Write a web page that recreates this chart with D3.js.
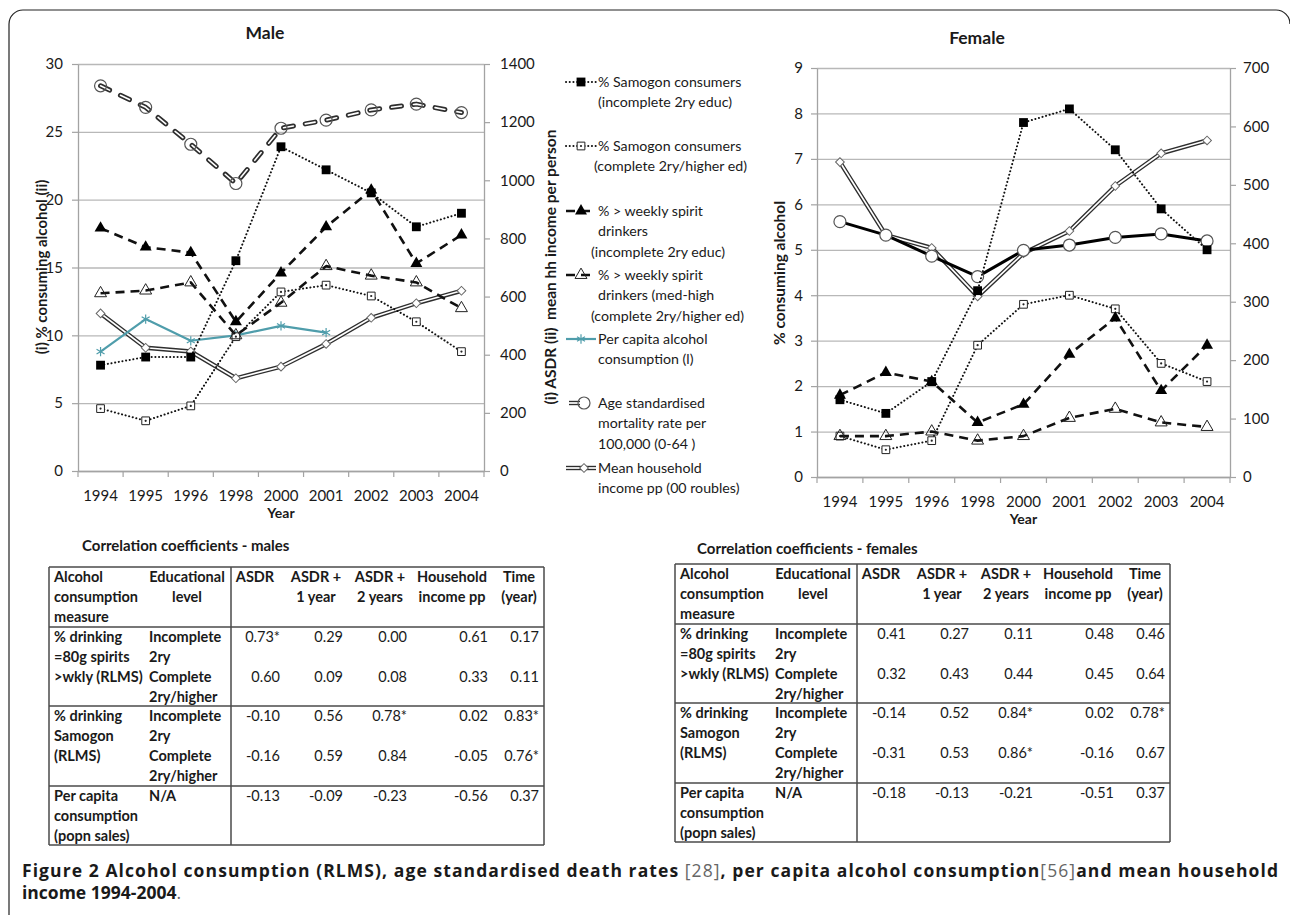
<!DOCTYPE html>
<html>
<head>
<meta charset="UTF-8" />
<title>Figure 2</title>
<style>
  body { margin: 0; background: #fff; }
  svg text { font-family: Lato, "Open Sans", sans-serif; fill: #1a1a1a; }
  svg text.caption { font-family: "Open Sans", sans-serif; }
</style>
<script src="https://d3js.org/d3.v7.min.js"></script>
</head>
<body>
<svg id="fig" width="1290" height="915"></svg>
<script>
const years = ["1994", "1995", "1996", "1998", "2000", "2001", "2002", "2003", "2004"];

// male, left axis (%)
const maleSamogonIncomplete = [7.8, 8.4, 8.4, 15.5, 23.9, 22.2, 20.5, 18.0, 19.0];
const maleSamogonComplete = [4.6, 3.7, 4.8, 9.9, 13.2, 13.7, 12.9, 11.0, 8.8];
const maleSpiritIncomplete = [17.9, 16.5, 16.1, 11.0, 14.6, 18.0, 20.7, 15.3, 17.4];
const maleSpiritComplete = [13.1, 13.3, 13.9, 10.0, 12.4, 15.1, 14.4, 13.9, 12.0];
const perCapitaAlcohol = [8.8, 11.2, 9.6, 10.0, 10.7, 10.2, null, null, null];
// male, right axis
const maleASDR = [1325, 1251, 1124, 989, 1179, 1207, 1242, 1262, 1233];
const maleIncome = [542, 424, 411, 319, 359, 437, 527, 577, 620];

// female, left axis (%)
const femaleSamogonIncomplete = [1.7, 1.4, 2.1, 4.1, 7.8, 8.1, 7.2, 5.9, 5.0];
const femaleSamogonComplete = [0.9, 0.6, 0.8, 2.9, 3.8, 4.0, 3.7, 2.5, 2.1];
const femaleSpiritIncomplete = [1.8, 2.3, 2.1, 1.2, 1.6, 2.7, 3.5, 1.9, 2.9];
const femaleSpiritComplete = [0.9, 0.9, 1.0, 0.8, 0.9, 1.3, 1.5, 1.2, 1.1];
// female, right axis
const femaleASDR = [437, 414, 378, 343, 388, 397, 410, 416, 404];
const femaleIncome = [539, 414, 392, 309, 383, 421, 498, 554, 576];

const maleLeftTicks = [0, 5, 10, 15, 20, 25, 30];
const maleRightTicks = [0, 200, 400, 600, 800, 1000, 1200, 1400];
const femaleLeftTicks = [0, 1, 2, 3, 4, 5, 6, 7, 8, 9];
const femaleRightTicks = [0, 100, 200, 300, 400, 500, 600, 700];

// correlation tables
const coefHeaders = [["ASDR"], ["ASDR +", "1 year"], ["ASDR +", "2 years"], ["Household", "income pp"], ["Time", "(year)"]];
const measureLabels = [["% drinking", "=80g spirits", ">wkly (RLMS)"], ["% drinking", "Samogon", "(RLMS)"], ["Per capita", "consumption", "(popn sales)"]];
const levelLabels = [["Incomplete", "2ry"], ["Complete", "2ry/higher"]];
const maleCoefs = [
  ["0.73*", "0.29", "0.00", "0.61", "0.17"],
  ["0.60", "0.09", "0.08", "0.33", "0.11"],
  ["-0.10", "0.56", "0.78*", "0.02", "0.83*"],
  ["-0.16", "0.59", "0.84", "-0.05", "0.76*"],
  ["-0.13", "-0.09", "-0.23", "-0.56", "0.37"]
];
const femaleCoefs = [
  ["0.41", "0.27", "0.11", "0.48", "0.46"],
  ["0.32", "0.43", "0.44", "0.45", "0.64"],
  ["-0.14", "0.52", "0.84*", "0.02", "0.78*"],
  ["-0.31", "0.53", "0.86*", "-0.16", "0.67"],
  ["-0.18", "-0.13", "-0.21", "-0.51", "0.37"]
];

const svg = d3.select("#fig");
const TEAL = "#4f9dab";
const AXIS = "#a3a3a3";

// frame round the figure
svg.append("path")
  .attr("d", "M9,915 V24 A14,14 0 0 1 23,10 H1276 A14,14 0 0 1 1290,24")
  .attr("fill", "none").attr("stroke", "#222").attr("stroke-width", 1.2);

/* line styles */
const styles = {
  samogonInc: { dash: "0.1,3.6", width: 2, color: "#111", marker: "sqFill" },
  samogonCom: { dash: "0.1,3.6", width: 2, color: "#111", marker: "sqOpen" },
  spiritInc: { dash: "9,6", width: 2.6, color: "#111", marker: "triFill" },
  spiritCom: { dash: "9,6", width: 2.6, color: "#111", marker: "triOpen" },
  perCapita: { width: 2.2, color: TEAL, marker: "star" },
  asdrMale: { double: true, dash: "10,12", marker: "circle" },
  asdrFemale: { width: 3, color: "#000", marker: "circleW" },
  income: { double: true, marker: "diamond" }
};

function drawMarker(g, type, x, y) {
  const t = `translate(${x},${y})`;
  if (type === "sqFill") {
    g.append("path").attr("d", d3.symbol(d3.symbolSquare, 78)()).attr("transform", t).attr("fill", "#000");
  } else if (type === "sqOpen") {
    g.append("path").attr("d", d3.symbol(d3.symbolSquare, 60)()).attr("transform", t)
      .attr("fill", "#fff").attr("stroke", "#222").attr("stroke-width", 1);
    g.append("circle").attr("cx", x).attr("cy", y).attr("r", 1.1).attr("fill", "#222");
  } else if (type === "triFill") {
    g.append("path").attr("d", d3.symbol(d3.symbolTriangle, 62)()).attr("transform", t).attr("fill", "#000");
  } else if (type === "triOpen") {
    g.append("path").attr("d", d3.symbol(d3.symbolTriangle, 62)()).attr("transform", t)
      .attr("fill", "none").attr("stroke", "#222").attr("stroke-width", 1);
  } else if (type === "star") {
    g.append("path").attr("d", d3.symbol(d3.symbolAsterisk, 60)()).attr("transform", t)
      .attr("fill", "none").attr("stroke", TEAL).attr("stroke-width", 1.2);
  } else if (type === "circle" || type === "circleW") {
    g.append("circle").attr("cx", x).attr("cy", y).attr("r", 6)
      .attr("fill", type === "circleW" ? "#fff" : "none").attr("stroke", "#555").attr("stroke-width", 1.2);
  } else if (type === "diamond") {
    g.append("path").attr("d", d3.symbol(d3.symbolSquare, 38)()).attr("transform", t + " rotate(45)")
      .attr("fill", "#fff").attr("stroke", "#666").attr("stroke-width", 1);
  }
}

function drawLine(g, st, d) {
  if (st.double) {
    g.append("path").attr("d", d).attr("fill", "none").attr("stroke", "#2e2e2e")
      .attr("stroke-width", st.dash ? 5 : 4.4).attr("stroke-dasharray", st.dash || null)
      .attr("stroke-linecap", st.dash ? "round" : "butt").attr("stroke-linejoin", "round");
    g.append("path").attr("d", d).attr("fill", "none").attr("stroke", "#fff")
      .attr("stroke-width", st.dash ? 1.6 : 1.7).attr("stroke-dasharray", st.dash || null)
      .attr("stroke-linecap", st.dash ? "round" : "butt").attr("stroke-linejoin", "round");
  } else {
    g.append("path").attr("d", d).attr("fill", "none").attr("stroke", st.color)
      .attr("stroke-width", st.width).attr("stroke-dasharray", st.dash || null)
      .attr("stroke-linecap", st.dash && st.dash.startsWith("0.1") ? "round" : "butt")
      .attr("stroke-linejoin", "round");
  }
}

function drawPanel(p) {
  const g = svg.append("g");
  const x = d3.scaleBand().domain(years).range([p.left, p.right]);
  const yL = d3.scaleLinear().domain([0, d3.max(p.leftTicks)]).range([p.bottom, p.top]);
  const yR = d3.scaleLinear().domain([0, d3.max(p.rightTicks)]).range([p.bottom, p.top]);

  // gridlines
  const grid = g.append("g").attr("transform", `translate(${p.left},0)`)
    .call(d3.axisLeft(yL).tickValues(p.leftTicks).tickSize(-(p.right - p.left)).tickFormat(""));
  grid.select(".domain").remove();
  grid.selectAll("line").attr("stroke", "#b8b8b8").attr("stroke-width", 1.3);

  // left axis
  const la = g.append("g").attr("transform", `translate(${p.left},0)`)
    .call(d3.axisLeft(yL).tickValues(p.leftTicks).tickSize(6).tickSizeOuter(0).tickPadding(p.lPad).tickFormat(d3.format("d")));
  // right axis
  const ra = g.append("g").attr("transform", `translate(${p.right},0)`)
    .call(d3.axisRight(yR).tickValues(p.rightTicks).tickSize(6).tickSizeOuter(0).tickPadding(p.rPad).tickFormat(d3.format("d")));
  // bottom axis (labels), boundary ticks drawn from band edges
  const ba = g.append("g").attr("transform", `translate(0,${p.bottom})`)
    .call(d3.axisBottom(x).tickSize(0).tickPadding(19).tickSizeOuter(0));
  const edges = years.map(d => x(d)).concat([x.range()[1]]);
  ba.selectAll(".edge").data(edges).enter().append("line")
    .attr("x1", d => d).attr("x2", d => d).attr("y1", 0).attr("y2", 6)
    .attr("stroke", AXIS).attr("stroke-width", 1.2);

  [la, ra, ba].forEach(a => {
    a.select(".domain").attr("stroke", AXIS).attr("stroke-width", 1.3);
    a.selectAll(".tick line").attr("stroke", AXIS).attr("stroke-width", 1.2);
    a.selectAll("text").attr("font-size", 15).attr("fill", "#2a2a2a");
  });

  // titles
  g.append("text").attr("x", p.titleX).attr("y", p.titleY).attr("text-anchor", "middle")
    .attr("font-size", 17.5).attr("font-weight", "bold").text(p.title);
  g.append("text").attr("x", (p.left + p.right) / 2).attr("y", p.bottom + 47).attr("text-anchor", "middle")
    .attr("font-size", 14).attr("font-weight", "bold").text("Year");
  g.append("text").attr("transform", `translate(${p.lTitleX},${p.lTitleY}) rotate(-90)`)
    .attr("text-anchor", "middle").attr("dominant-baseline", "central")
    .attr("font-size", p.lTitleSize).attr("font-weight", "bold").text(p.leftTitle);
  if (p.rightTitle) {
    g.append("text").attr("transform", `translate(${p.rTitleX},${p.rTitleY}) rotate(-90)`)
      .attr("text-anchor", "middle").attr("dominant-baseline", "central")
      .attr("font-size", 15.5).attr("font-weight", "bold")
      .style("white-space", "pre").text(p.rightTitle);
  }

  // series
  p.series.forEach(s => {
    const y = s.axis === "right" ? yR : yL;
    const st = styles[s.style];
    const pts = years.map((yr, i) => ({ x: x(yr) + x.bandwidth() / 2, v: s.values[i] }));
    const line = d3.line().defined(d => d.v != null).x(d => d.x).y(d => y(d.v));
    const sg = g.append("g");
    drawLine(sg, st, line(pts));
    pts.filter(d => d.v != null).forEach(d => drawMarker(sg, st.marker, d.x, y(d.v)));
  });
}

drawPanel({
  left: 78, right: 484, top: 64, bottom: 471, lPad: 9, rPad: 10,
  leftTicks: maleLeftTicks, rightTicks: maleRightTicks,
  title: "Male", titleX: 265, titleY: 39,
  leftTitle: "(i) % consuming alcohol (ii)", lTitleX: 41, lTitleY: 267, lTitleSize: 15,
  rightTitle: "(i) ASDR (ii)  mean hh income per person", rTitleX: 550, rTitleY: 267,
  series: [
    { values: maleIncome, axis: "right", style: "income" },
    { values: maleASDR, axis: "right", style: "asdrMale" },
    { values: perCapitaAlcohol, axis: "left", style: "perCapita" },
    { values: maleSamogonComplete, axis: "left", style: "samogonCom" },
    { values: maleSamogonIncomplete, axis: "left", style: "samogonInc" },
    { values: maleSpiritComplete, axis: "left", style: "spiritCom" },
    { values: maleSpiritIncomplete, axis: "left", style: "spiritInc" }
  ]
});

drawPanel({
  left: 817, right: 1230, top: 68, bottom: 477, lPad: 8, rPad: 7,
  leftTicks: femaleLeftTicks, rightTicks: femaleRightTicks,
  title: "Female", titleX: 977, titleY: 44,
  leftTitle: "% consuming alcohol", lTitleX: 779, lTitleY: 273, lTitleSize: 15.5,
  series: [
    { values: femaleIncome, axis: "right", style: "income" },
    { values: femaleASDR, axis: "right", style: "asdrFemale" },
    { values: femaleSamogonComplete, axis: "left", style: "samogonCom" },
    { values: femaleSamogonIncomplete, axis: "left", style: "samogonInc" },
    { values: femaleSpiritComplete, axis: "left", style: "spiritCom" },
    { values: femaleSpiritIncomplete, axis: "left", style: "spiritInc" }
  ]
});

/* legend for the male panel */
const legendItems = [
  { style: "samogonInc", y: 82, lines: ["% Samogon consumers", "(incomplete 2ry educ)"], indent: [0, 0] },
  { style: "samogonCom", y: 146, lines: ["% Samogon consumers", "(complete 2ry/higher ed)"], indent: [0, -4] },
  { style: "spiritInc", y: 211, lines: ["% > weekly spirit", "drinkers", "(incomplete 2ry educ)"], indent: [0, 0, -7] },
  { style: "spiritCom", y: 275, lines: ["% > weekly spirit", "drinkers (med-high", "(complete 2ry/higher ed)"], indent: [0, 0, -7] },
  { style: "perCapita", y: 339, lines: ["Per capita alcohol", "consumption (l)"], indent: [0, 0] },
  { style: "asdrMale", y: 403, lines: ["Age standardised", "mortality rate per", "100,000 (0-64 )"], indent: [0, 0, 0] },
  { style: "income", y: 468, lines: ["Mean household", "income pp (00 roubles)"], indent: [0, 0] }
];
const lg = svg.append("g");
legendItems.forEach(it => {
  const st = styles[it.style];
  const x0 = it.style === "asdrMale" ? 569 : 566;
  const x1 = it.style === "asdrMale" ? 580 : 596;
  const seg = `M${x0},${it.y}L${x1},${it.y}`;
  const legSt = Object.assign({}, st, st.double && st.dash ? { dash: null } : {});
  drawLine(lg, legSt, seg);
  const mx = it.style === "asdrMale" ? 584 : (it.style === "income" ? 584 : 581);
  drawMarker(lg, st.marker, mx, it.y);
  it.lines.forEach((t, i) => {
    lg.append("text").attr("x", 598 + it.indent[i]).attr("y", it.y + 5 + i * 20.3)
      .attr("font-size", 14.2).text(t);
  });
});

/* correlation tables */
const colCenters = [206, 267, 331, 403, 470];
const valueRights = [231, 294, 358, 439, 490];
const groupTops = [60, 139, 219];

function drawTable(x0, y0, titleX, titleY, title, coefs) {
  const g = svg.append("g").attr("transform", `translate(${x0},${y0})`);
  g.append("text").attr("x", titleX - x0).attr("y", titleY - y0).attr("font-size", 15)
    .attr("font-weight", "bold").text(title);
  const hl = [0, 60, 139, 219, 278];
  hl.forEach(h => g.append("line").attr("x1", 0).attr("x2", 495).attr("y1", h).attr("y2", h)
    .attr("stroke", "#4a4a4a").attr("stroke-width", 1.5));
  [0, 182, 495].forEach(v => g.append("line").attr("x1", v).attr("x2", v).attr("y1", 0).attr("y2", 278)
    .attr("stroke", "#4a4a4a").attr("stroke-width", 1.5));

  const txt = (x, y, s, anchor, bold) => g.append("text").attr("x", x).attr("y", y)
    .attr("text-anchor", anchor).attr("font-size", 14.5).attr("font-weight", bold ? "bold" : "normal").text(s);

  ["Alcohol", "consumption", "measure"].forEach((s, i) => txt(5, 15 + i * 20, s, "start", true));
  ["Educational", "level"].forEach((s, i) => txt(138, 15 + i * 20, s, "middle", true));
  coefHeaders.forEach((h, c) => h.forEach((s, i) => txt(colCenters[c], 15 + i * 20, s, "middle", true)));

  groupTops.forEach((gt, gi) => {
    measureLabels[gi].forEach((s, i) => txt(5, gt + 15 + i * 20, s, "start", true));
    if (gi < 2) {
      levelLabels.forEach((lv, li) => lv.forEach((s, i) => txt(100, gt + 15 + li * 40 + i * 20, s, "start", true)));
      [0, 1].forEach(li => coefs[gi * 2 + li].forEach((v, c) => txt(valueRights[c], gt + 15 + li * 40, v, "end", false)));
    } else {
      txt(100, gt + 15, "N/A", "start", true);
      coefs[4].forEach((v, c) => txt(valueRights[c], gt + 15, v, "end", false));
    }
  });
}

drawTable(49, 567, 82, 551, "Correlation coefficients - males", maleCoefs);
drawTable(675, 564, 697, 554, "Correlation coefficients - females", femaleCoefs);

/* caption */
const cap1 = svg.append("text").attr("class", "caption").attr("x", 22).attr("y", 877).attr("font-size", 17.5)
  .attr("textLength", 1256).attr("lengthAdjust", "spacing");
cap1.append("tspan").attr("font-weight", "bold").text("Figure 2 ");
cap1.append("tspan").attr("font-weight", "bold").text("Alcohol consumption (RLMS), age standardised death rates ");
cap1.append("tspan").attr("fill", "#666").text("[28]");
cap1.append("tspan").attr("font-weight", "bold").text(", per capita alcohol consumption");
cap1.append("tspan").attr("fill", "#666").text("[56]");
cap1.append("tspan").attr("font-weight", "bold").text("and mean household");
const cap2 = svg.append("text").attr("class", "caption").attr("x", 22).attr("y", 899).attr("font-size", 17.5);
cap2.append("tspan").attr("font-weight", "bold").text("income 1994-2004");
cap2.append("tspan").attr("fill", "#666").text(".");
</script>
</body>
</html>
